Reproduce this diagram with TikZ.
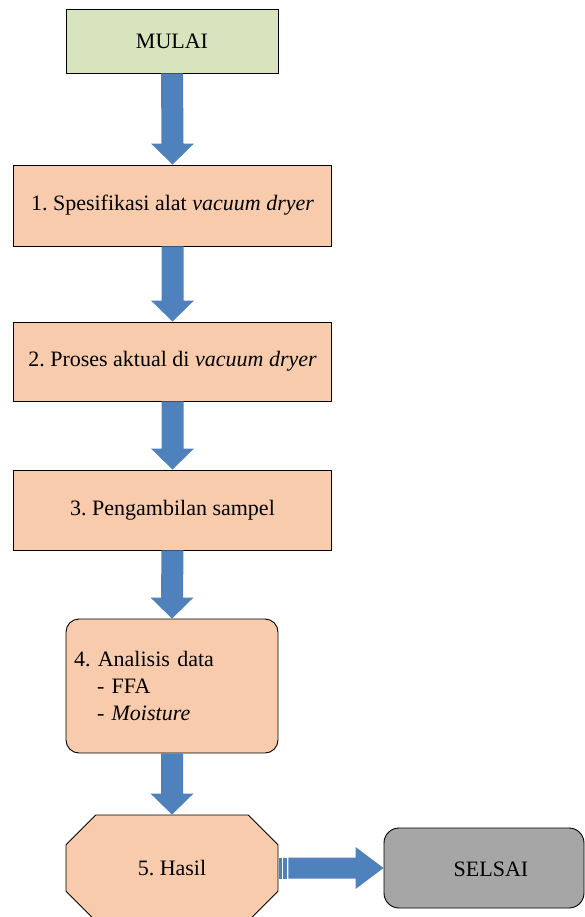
\documentclass[tikz,border=0pt]{standalone}
\usepackage{fontspec}
\setmainfont{Liberation Serif}
\frenchspacing
\usetikzlibrary{calc,shapes.misc}
\definecolor{startgreen}{HTML}{D7E4BD}
\definecolor{peach}{HTML}{F8CBAD}
\definecolor{arrowblue}{HTML}{4F81BD}
\definecolor{endgray}{HTML}{A6A6A6}
\newcommand\vblockarrow[2]{%
  \fill[arrowblue] ($(#1.south)+(-11,0)$) -- ($(#2.north)+(-11,-21)$) -- ($(#2.north)+(-21.5,-21)$)
    -- (#2.north) -- ($(#2.north)+(21.5,-21)$) -- ($(#2.north)+(11,-21)$) -- ($(#1.south)+(11,0)$) -- cycle;}
\begin{document}
\begin{tikzpicture}[x=1pt,y=-1pt,
  every node/.style={font=\fontsize{22}{27}\selectfont\frenchspacing, inner sep=0pt},
  boxbase/.style={draw=black, line width=0.9pt},
  widebox/.style={boxbase, fill=peach, minimum width=318pt},
  stepsbox/.style={boxbase, fill=peach, minimum width=212pt}]
\useasboundingbox (0,0) rectangle (584,917);
\node[boxbase, fill=startgreen, minimum width=212pt, minimum height=64pt] (mulai) at (172,41) {MULAI};
\node[widebox, minimum height=81pt] (s1) at (172.5,205.5) {1. Spesifikasi alat \textit{vacuum dryer}};
\node[widebox, minimum height=79pt] (s2) at (172.5,361.5) {2. Proses aktual di \textit{vacuum dryer}};
\node[widebox, minimum height=80pt] (s3) at (172.5,510) {3. Pengambilan sampel};
\node[stepsbox, rounded corners=13pt, minimum height=134pt, text width=196pt, align=left] (s4) at (172,686)
  {4. Analisis data\\\hspace*{23pt}- FFA\\\hspace*{23pt}- \textit{Moisture}};
\node[stepsbox, chamfered rectangle, chamfered rectangle xsep=22pt, chamfered rectangle ysep=22pt,
  minimum height=106pt] (s5) at (172,868) {5. Hasil};
\node[boxbase, fill=endgray, rounded corners=15pt, minimum width=200pt, minimum height=80pt] (selsai) at (484,868) {};
\node (selsaitext) at (491,869) {SELSAI};
\vblockarrow{mulai}{s1}
\vblockarrow{s1}{s2}
\vblockarrow{s2}{s3}
\vblockarrow{s3}{s4}
\vblockarrow{s4}{s5}
% striped horizontal arrow
\fill[arrowblue] ($(s5.east)+(0.5,-10.5)$) rectangle ($(s5.east)+(4,10.5)$);
\fill[arrowblue] ($(s5.east)+(5,-10.5)$) rectangle ($(s5.east)+(9,10.5)$);
\fill[arrowblue] ($(s5.east)+(10,-10.5)$) -- ($(selsai.west)+(-28,-10.5)$) -- ($(selsai.west)+(-28,-21)$)
  -- (selsai.west) -- ($(selsai.west)+(-28,21)$) -- ($(selsai.west)+(-28,10.5)$) -- ($(s5.east)+(10,10.5)$) -- cycle;
\end{tikzpicture}
\end{document}
